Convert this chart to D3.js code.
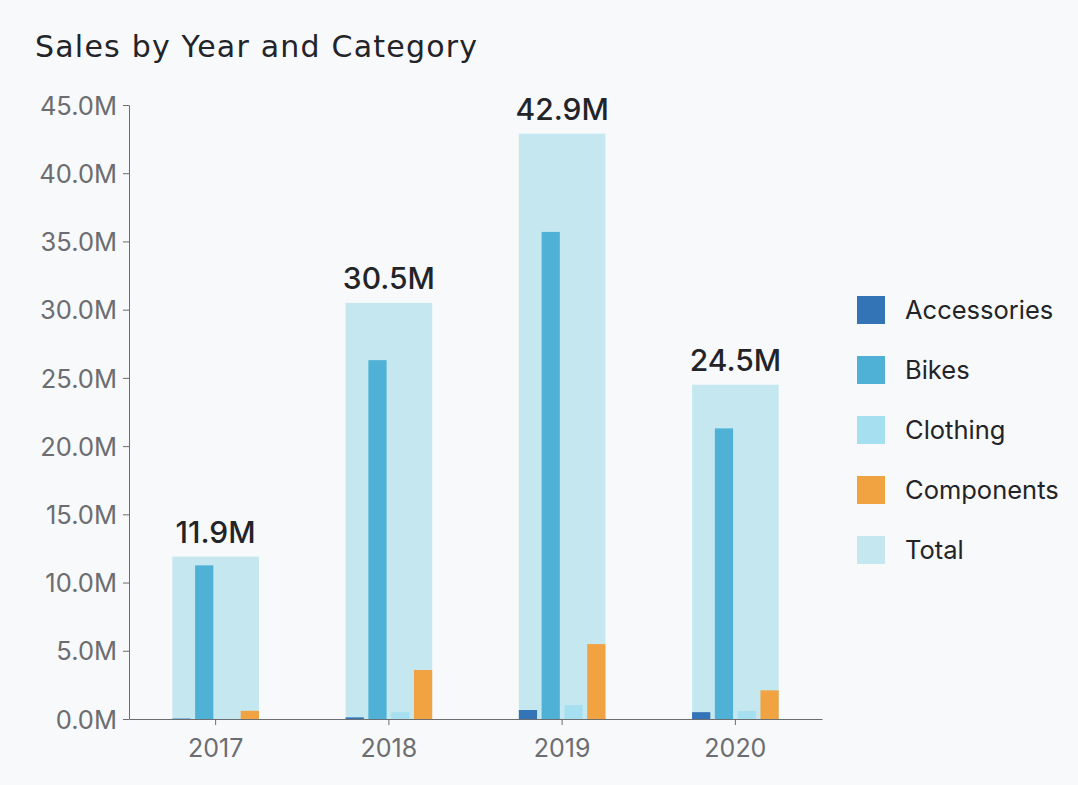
<!DOCTYPE html>
<html>
<head>
<meta charset="utf-8">
<script src="https://cdn.jsdelivr.net/npm/d3@7"></script>
<style>
  html, body { margin: 0; padding: 0; background: #f8f9fb; }
  #wrapper { width: 1078px; height: 785px; }
</style>
</head>
<body>
<div id="wrapper"></div>
<script>
// data
const years = ["2017", "2018", "2019", "2020"]
const categories = ["Accessories", "Bikes", "Clothing", "Components"]
const accessories = [0.03, 0.12, 0.66, 0.5]
const bikes = [11.26, 26.3, 35.7, 21.3]
const clothing = [0.0, 0.5, 1.03, 0.58]
const components = [0.6, 3.59, 5.49, 2.1]
const totals = [11.9, 30.5, 42.9, 24.5]
const yTicks = [0, 5, 10, 15, 20, 25, 30, 35, 40, 45]

const seriesValues = [accessories, bikes, clothing, components]
const colors = ["#3274b5", "#4fb1d6", "#a6dff0", "#f0a340"]
const totalColor = "#c5e8f0"

const dataset = years.map((year, i) => ({
    year: year,
    total: totals[i],
    cats: categories.map((c, j) => ({ cat: c, value: seriesValues[j][i] }))
}))

let dimensions = {
    width: 1078,
    height: 785,
    margin: {
        top: 105,
        right: 256,
        bottom: 66,
        left: 129,
    }
}
dimensions.boundedWidth = dimensions.width
    - dimensions.margin.left
    - dimensions.margin.right
dimensions.boundedHeight = dimensions.height
    - dimensions.margin.top
    - dimensions.margin.bottom

const wrapper = d3.select("#wrapper")
    .append("svg")
        .attr("width", dimensions.width)
        .attr("height", dimensions.height)

wrapper.append("text")
    .attr("x", 35)
    .attr("y", 57)
    .attr("fill", "#222428")
    .attr("textLength", 442)
    .attr("lengthAdjust", "spacing")
    .style("font-family", "'DejaVu Sans', sans-serif")
    .style("font-size", "30px")
    .text("Sales by Year and Category")

const bounds = wrapper.append("g")
    .attr("transform", `translate(${dimensions.margin.left}, ${dimensions.margin.top})`)

// scales
const xScale = d3.scaleBand()
    .domain(years)
    .range([0, dimensions.boundedWidth])
    .paddingInner(0.5)
    .paddingOuter(0.25)

const subScale = d3.scaleBand()
    .domain(categories)
    .range([0, xScale.bandwidth()])
    .paddingInner(0.2)

const yScale = d3.scaleLinear()
    .domain([0, 45])
    .range([dimensions.boundedHeight, 0])

// total bars
const groups = bounds.selectAll(".year")
    .data(dataset)
    .join("g")
        .attr("class", "year")
        .attr("transform", d => `translate(${xScale(d.year)}, 0)`)

groups.append("rect")
    .attr("x", 0)
    .attr("y", d => yScale(d.total))
    .attr("width", xScale.bandwidth())
    .attr("height", d => yScale(0) - yScale(d.total))
    .attr("fill", totalColor)

groups.selectAll(".cat")
    .data(d => d.cats)
    .join("rect")
        .attr("class", "cat")
        .attr("x", d => subScale(d.cat))
        .attr("y", d => yScale(d.value))
        .attr("width", subScale.bandwidth())
        .attr("height", d => yScale(0) - yScale(d.value))
        .attr("fill", (d, i) => colors[i])

groups.append("text")
    .attr("x", xScale.bandwidth() / 2)
    .attr("y", d => yScale(d.total) - 14)
    .attr("text-anchor", "middle")
    .attr("fill", "#222428")
    .style("font-family", "Inter, sans-serif")
    .style("font-size", "30px")
    .style("font-weight", 500)
    .text(d => d.total.toFixed(1) + "M")

// axes
const yAxisGenerator = d3.axisLeft()
    .scale(yScale)
    .tickValues(yTicks)
    .tickSizeOuter(0)
    .tickPadding(6)
    .tickFormat(d => d.toFixed(1) + "M")

const yAxis = bounds.append("g")
    .call(yAxisGenerator)
    .style("color", "#6b6d70")
yAxis.selectAll("text")
    .style("font-family", "Inter, sans-serif")
    .style("font-size", "25.5px")
    .attr("dy", "0.36em")

const xAxisGenerator = d3.axisBottom()
    .scale(xScale)
    .tickSizeOuter(0)
    .tickPadding(14)

const xAxis = bounds.append("g")
    .call(xAxisGenerator)
    .attr("transform", `translate(0, ${dimensions.boundedHeight})`)
    .style("color", "#6b6d70")
xAxis.selectAll("text")
    .style("font-family", "Inter, sans-serif")
    .style("font-size", "25px")

// legend
const legendItems = categories.concat(["Total"])
const legendColors = colors.concat([totalColor])
const legend = wrapper.append("g")
    .attr("transform", "translate(857, 296)")

const legendRows = legend.selectAll("g")
    .data(legendItems)
    .join("g")
        .attr("transform", (d, i) => `translate(0, ${i * 60})`)

legendRows.append("rect")
    .attr("width", 28)
    .attr("height", 28)
    .attr("fill", (d, i) => legendColors[i])

legendRows.append("text")
    .attr("x", 48)
    .attr("y", 14)
    .attr("dy", "0.35em")
    .attr("fill", "#222428")
    .style("font-family", "Inter, sans-serif")
    .style("font-size", "25.5px")
    .text(d => d)
</script>
</body>
</html>
